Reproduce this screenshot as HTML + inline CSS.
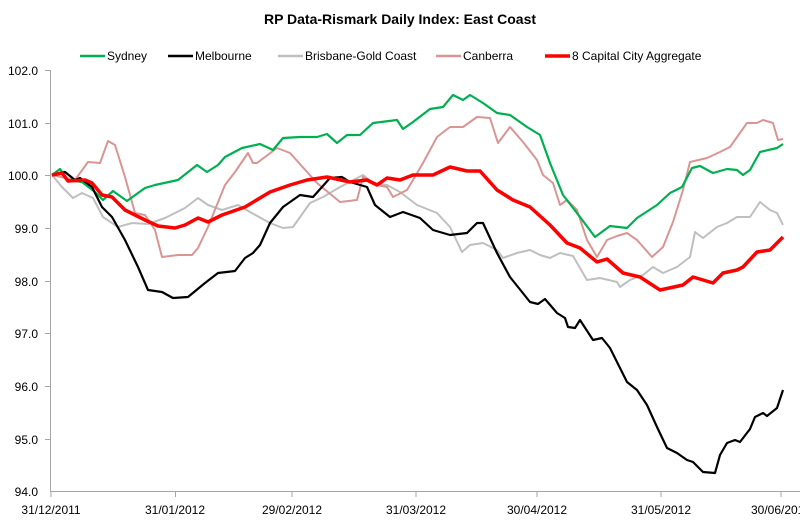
<!DOCTYPE html>
<html><head><meta charset="utf-8"><style>
body{margin:0;background:#fff}
svg text{font-family:"Liberation Sans",sans-serif}
</style></head><body>
<svg width="800" height="522" viewBox="0 0 800 522" xmlns="http://www.w3.org/2000/svg">
<rect width="800" height="522" fill="#fff"/>
<text x="400" y="24" font-size="14" font-weight="bold" text-anchor="middle" fill="#000">RP Data-Rismark Daily Index: East Coast</text>
<g font-size="12" fill="#000">
<line x1="80" y1="56" x2="105" y2="56" stroke="#00b050" stroke-width="2.5"/><text x="107" y="60">Sydney</text>
<line x1="168" y1="56" x2="193" y2="56" stroke="#000" stroke-width="2.5"/><text x="195" y="60">Melbourne</text>
<line x1="278" y1="56" x2="303" y2="56" stroke="#bfbfbf" stroke-width="2.5"/><text x="305" y="60">Brisbane-Gold Coast</text>
<line x1="436" y1="56" x2="461" y2="56" stroke="#d99594" stroke-width="2.5"/><text x="463" y="60">Canberra</text>
<line x1="545" y1="56" x2="570" y2="56" stroke="#ff0000" stroke-width="3.5"/><text x="572" y="60">8 Capital City Aggregate</text>
</g>
<g stroke="#a6a6a6" stroke-width="1">
<line x1="50.5" y1="70" x2="50.5" y2="492"/>
<line x1="50" y1="491.5" x2="800" y2="491.5"/>
<line x1="45" y1="70.5" x2="50" y2="70.5"/><line x1="45" y1="123.5" x2="50" y2="123.5"/><line x1="45" y1="175.5" x2="50" y2="175.5"/><line x1="45" y1="228.5" x2="50" y2="228.5"/><line x1="45" y1="281.5" x2="50" y2="281.5"/><line x1="45" y1="333.5" x2="50" y2="333.5"/><line x1="45" y1="386.5" x2="50" y2="386.5"/><line x1="45" y1="439.5" x2="50" y2="439.5"/>
<line x1="51" y1="492" x2="51" y2="497"/><line x1="175.5" y1="492" x2="175.5" y2="497"/><line x1="292" y1="492" x2="292" y2="497"/><line x1="416" y1="492" x2="416" y2="497"/><line x1="537" y1="492" x2="537" y2="497"/><line x1="661" y1="492" x2="661" y2="497"/><line x1="781" y1="492" x2="781" y2="497"/>
</g>
<g font-size="12" fill="#000" text-anchor="end">
<text x="38" y="75">102.0</text><text x="38" y="128">101.0</text><text x="38" y="180">100.0</text><text x="38" y="233">99.0</text><text x="38" y="286">98.0</text><text x="38" y="338">97.0</text><text x="38" y="391">96.0</text><text x="38" y="444">95.0</text><text x="38" y="496">94.0</text>
</g>
<g font-size="12" fill="#000" text-anchor="middle">
<text x="51" y="514">31/12/2011</text><text x="175" y="514">31/01/2012</text><text x="292" y="514">29/02/2012</text><text x="416" y="514">31/03/2012</text><text x="537" y="514">30/04/2012</text><text x="661" y="514">31/05/2012</text><text x="781" y="514">30/06/2012</text>
</g>
<g fill="none" stroke-linejoin="round">
<polyline stroke="#bfbfbf" stroke-width="2" points="52,175 62,187 73,198 82,193 93,198 103,217 118,227 132,223 148,224 165,218 185,208 198,198 208,205 222,210 238,205 250,212 270,223 283,228 293,227 310,203 323,197 340,187 363,175 373,183 387,185 400,192 417,205 437,213 450,227 462,252 470,245 483,243 497,250 503,258 517,253 530,250 540,255 550,258 560,253 573,256 587,280 600,278 617,282 620,287 630,280 643,275 653,267 663,273 677,267 690,257 695,232 703,238 717,227 727,223 737,217 750,217 760,202 770,210 777,213 783,225"/>
<polyline stroke="#d99594" stroke-width="2" points="52,175 75,180 88,162 100,163 108,141 115,145 125,177 135,213 145,215 155,230 162,257 178,255 192,255 198,248 208,227 225,185 235,172 248,153 253,163 257,163 277,148 290,153 317,183 340,202 357,200 363,177 377,185 387,187 393,197 407,190 413,180 423,163 437,137 450,127 463,127 477,117 490,118 498,143 510,127 523,142 537,160 543,175 553,183 560,205 567,200 577,210 587,240 597,257 607,240 617,236 627,233 637,240 652,257 663,247 673,222 683,190 690,162 707,158 720,152 730,147 747,123 757,123 763,120 773,123 778,140 783,139"/>
<polyline stroke="#00b050" stroke-width="2.2" points="52,175 60,169 68,180 82,182 95,192 103,200 113,191 127,201 145,188 155,185 178,180 197,165 207,172 218,165 225,157 242,148 260,144 273,150 283,138 300,137 317,137 327,134 337,143 347,135 360,135 373,123 397,120 403,129 413,122 430,109 443,107 453,95 463,100 470,95 483,103 497,113 510,115 527,127 540,135 550,163 563,195 580,217 595,237 610,226 627,228 637,218 657,205 670,193 682,187 692,168 700,166 713,173 727,169 737,170 743,175 750,170 760,152 777,148 783,144"/>
<polyline stroke="#000" stroke-width="2.2" points="52,175 65,172 75,180 80,178 92,187 102,207 112,217 125,240 138,267 148,290 162,292 173,298 188,297 205,283 218,273 235,271 245,258 253,253 260,245 270,223 283,207 300,195 313,197 330,178 342,177 350,182 367,187 375,205 390,217 403,212 420,218 433,230 450,235 467,233 477,223 483,223 497,253 510,277 530,302 538,304 545,299 557,313 565,318 568,327 575,328 580,320 593,340 602,338 610,348 627,382 637,390 647,405 657,427 667,448 677,453 687,460 693,462 703,472 715,473 720,455 727,443 735,440 740,442 750,429 755,417 763,413 767,416 777,408 783,390"/>
<polyline stroke="#ff0000" stroke-width="3.5" points="52,175 62,173 68,181 85,180 92,183 102,195 112,197 125,210 145,220 158,226 175,228 185,225 198,218 208,222 222,215 245,207 260,198 270,192 290,185 307,180 327,177 350,182 367,180 377,185 387,178 400,180 413,175 433,175 450,167 467,171 480,171 497,190 513,200 530,207 550,225 567,243 580,248 597,262 607,259 623,273 640,277 660,290 683,285 693,277 713,283 723,273 737,270 743,267 757,252 770,250 783,237"/>
</g>
</svg>
</body></html>
